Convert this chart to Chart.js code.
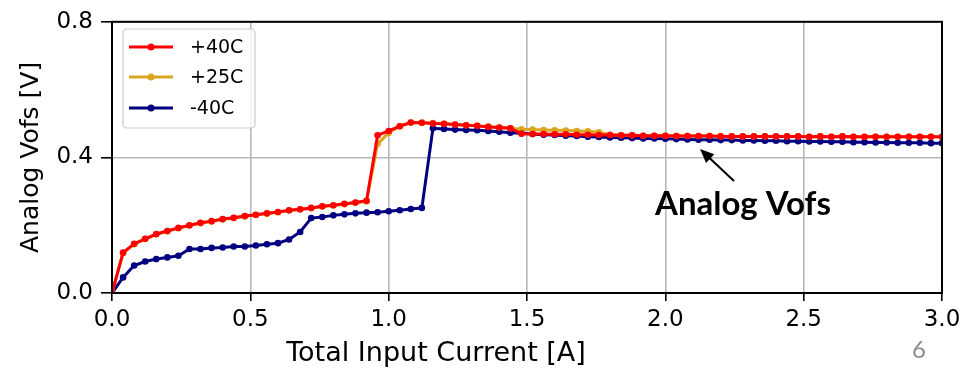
<!DOCTYPE html>
<html>
<head>
<meta charset="utf-8">
<script src="https://cdn.jsdelivr.net/npm/chart.js@4.4.1/dist/chart.umd.min.js"></script>
<style>
    html, body { margin: 0; padding: 0; background: #ffffff; }
    #wrap { width: 978px; height: 369px; }
</style>
</head>
<body>
<div id="wrap"><canvas id="vofsChart" width="978" height="369"></canvas></div>
<script>
// Total input current [A]
const currents = [
    0.00, 0.04, 0.08, 0.12, 0.16, 0.20, 0.24, 0.28, 0.32, 0.36,
    0.40, 0.44, 0.48, 0.52, 0.56, 0.60, 0.64, 0.68, 0.72, 0.76,
    0.80, 0.84, 0.88, 0.92, 0.96, 1.00, 1.04, 1.08, 1.12, 1.16,
    1.20, 1.24, 1.28, 1.32, 1.36, 1.40, 1.44, 1.48, 1.52, 1.56,
    1.60, 1.64, 1.68, 1.72, 1.76, 1.80, 1.84, 1.88, 1.92, 1.96,
    2.00, 2.04, 2.08, 2.12, 2.16, 2.20, 2.24, 2.28, 2.32, 2.36,
    2.40, 2.44, 2.48, 2.52, 2.56, 2.60, 2.64, 2.68, 2.72, 2.76,
    2.80, 2.84, 2.88, 2.92, 2.96, 3.00
];

// Analog Vofs [V] at +40C
const vofsPlus40 = [
    0.000, 0.119, 0.145, 0.160, 0.174, 0.183, 0.192, 0.200, 0.207, 0.212,
    0.218, 0.222, 0.227, 0.231, 0.235, 0.239, 0.244, 0.247, 0.251, 0.256,
    0.259, 0.263, 0.267, 0.272, 0.465, 0.478, 0.492, 0.503, 0.502, 0.500,
    0.499, 0.497, 0.495, 0.493, 0.490, 0.488, 0.486, 0.470, 0.469, 0.469,
    0.468, 0.468, 0.467, 0.467, 0.466, 0.466, 0.465, 0.465, 0.464, 0.464,
    0.464, 0.463, 0.463, 0.463, 0.463, 0.462, 0.462, 0.462, 0.462, 0.462,
    0.462, 0.462, 0.462, 0.461, 0.462, 0.461, 0.462, 0.461, 0.461, 0.461,
    0.461, 0.461, 0.461, 0.461, 0.461, 0.461
];

// Analog Vofs [V] at +25C
const vofsPlus25 = [
    0.000, 0.118, 0.144, 0.159, 0.173, 0.182, 0.191, 0.199, 0.206, 0.211,
    0.217, 0.221, 0.226, 0.230, 0.234, 0.238, 0.243, 0.246, 0.250, 0.255,
    0.258, 0.262, 0.266, 0.270, 0.440, 0.472, 0.492, 0.503, 0.503, 0.501,
    0.499, 0.497, 0.495, 0.493, 0.491, 0.488, 0.486, 0.483, 0.482, 0.481,
    0.480, 0.479, 0.478, 0.477, 0.474, 0.467, 0.465, 0.465, 0.464, 0.464,
    0.464, 0.463, 0.463, 0.463, 0.463, 0.462, 0.462, 0.462, 0.462, 0.462,
    0.462, 0.462, 0.462, 0.461, 0.462, 0.461, 0.462, 0.461, 0.461, 0.461,
    0.461, 0.461, 0.461, 0.461, 0.461, 0.461
];

// Analog Vofs [V] at -40C
const vofsMinus40 = [
    0.000, 0.046, 0.081, 0.093, 0.100, 0.105, 0.110, 0.130, 0.130, 0.133,
    0.134, 0.137, 0.137, 0.140, 0.144, 0.147, 0.158, 0.180, 0.221, 0.224,
    0.229, 0.232, 0.235, 0.237, 0.238, 0.241, 0.244, 0.248, 0.251, 0.486,
    0.484, 0.482, 0.481, 0.480, 0.478, 0.476, 0.473, 0.471, 0.469, 0.467,
    0.466, 0.464, 0.463, 0.461, 0.460, 0.459, 0.458, 0.457, 0.456, 0.456,
    0.455, 0.454, 0.453, 0.452, 0.452, 0.451, 0.451, 0.450, 0.450, 0.449,
    0.449, 0.448, 0.448, 0.447, 0.447, 0.446, 0.446, 0.445, 0.445, 0.444,
    0.444, 0.443, 0.443, 0.443, 0.442, 0.442
];

const seriesLabels = ["+40C", "+25C", "-40C"];
const seriesColors = ["#ff0000", "#daa520", "#000080"];
const xTicks = [0.0, 0.5, 1.0, 1.5, 2.0, 2.5, 3.0];
const yTicks = [0.0, 0.4, 0.8];

document.addEventListener("DOMContentLoaded", function () {

    /*** ===========================
     *  HELPERS
     *  =========================== ***/
    function toPoints(values) {
        return values.map((v, i) => ({ x: currents[i], y: v }));
    }

    function makeDataset(label, values, color) {
        return {
            label: label,
            data: toPoints(values),
            borderColor: color,
            backgroundColor: color,
            borderWidth: 3,
            pointRadius: 3.3,
            pointBorderWidth: 0,
            pointHoverRadius: 3.3,
            tension: 0
        };
    }

    /*** ===========================
     *  FRAME, LEGEND, ANNOTATION
     *  =========================== ***/
    const framePlugin = {
        id: "frame",
        afterDatasetsDraw(chart) {
            const { ctx, chartArea: a } = chart;
            ctx.save();
            ctx.strokeStyle = "#000000";
            ctx.lineWidth = 2;
            ctx.strokeRect(a.left, a.top, a.right - a.left, a.bottom - a.top);
            ctx.restore();
        }
    };

    const extrasPlugin = {
        id: "extras",
        afterDraw(chart) {
            const ctx = chart.ctx;
            ctx.save();

            // legend box
            const bx = 123, by = 29, bw = 132, bh = 99, r = 4;
            ctx.beginPath();
            ctx.roundRect(bx, by, bw, bh, r);
            ctx.fillStyle = "rgba(255,255,255,0.85)";
            ctx.fill();
            ctx.strokeStyle = "#cccccc";
            ctx.lineWidth = 1.2;
            ctx.stroke();

            const rows = [47, 77, 108];
            chart.data.datasets.forEach((ds, i) => {
                const y = rows[i];
                ctx.strokeStyle = ds.borderColor;
                ctx.lineWidth = 3;
                ctx.beginPath();
                ctx.moveTo(129, y);
                ctx.lineTo(173, y);
                ctx.stroke();
                ctx.fillStyle = ds.borderColor;
                ctx.beginPath();
                ctx.arc(151, y, 3.5, 0, Math.PI * 2);
                ctx.fill();
                ctx.fillStyle = "#000000";
                ctx.font = "19px 'DejaVu Sans'";
                ctx.textBaseline = "middle";
                ctx.textAlign = "left";
                ctx.fillText(ds.label, 190, y + 1);
            });

            // x axis title (sits left of the axis centre in the original)
            ctx.fillStyle = "#000000";
            ctx.font = "27px 'DejaVu Sans'";
            ctx.textAlign = "center";
            ctx.textBaseline = "middle";
            ctx.fillText("Total Input Current [A]", 436, 354);

            // arrow pointing at the curves
            const tx = 700, ty = 149, sx = 734, sy = 181;
            const ang = Math.atan2(ty - sy, tx - sx);
            const head = 14, half = 6;
            ctx.strokeStyle = "#000000";
            ctx.lineWidth = 2;
            ctx.beginPath();
            ctx.moveTo(sx, sy);
            ctx.lineTo(tx - Math.cos(ang) * head * 0.8, ty - Math.sin(ang) * head * 0.8);
            ctx.stroke();
            ctx.beginPath();
            ctx.moveTo(tx, ty);
            ctx.lineTo(tx - Math.cos(ang) * head - Math.sin(ang) * half,
                       ty - Math.sin(ang) * head + Math.cos(ang) * half);
            ctx.lineTo(tx - Math.cos(ang) * head + Math.sin(ang) * half,
                       ty - Math.sin(ang) * head - Math.cos(ang) * half);
            ctx.closePath();
            ctx.fill();

            // annotation text
            ctx.font = "bold 33px Lato";
            ctx.textAlign = "left";
            ctx.textBaseline = "alphabetic";
            ctx.fillText("Analog Vofs", 655, 215);

            // slide page number
            ctx.fillStyle = "#8c8c8c";
            ctx.font = "24px Lato";
            ctx.fillText("6", 912, 358);

            ctx.restore();
        }
    };

    /*** ===========================
     *  VOFS vs CURRENT LINE CHART
     *  =========================== ***/
    const ctxVofs = document.getElementById("vofsChart").getContext("2d");

    const tickFont = { family: "'DejaVu Sans'", size: 23 };

    new Chart(ctxVofs, {
        type: "line",
        data: {
            datasets: [
                makeDataset(seriesLabels[0], vofsPlus40, seriesColors[0]),
                makeDataset(seriesLabels[1], vofsPlus25, seriesColors[1]),
                makeDataset(seriesLabels[2], vofsMinus40, seriesColors[2])
            ]
        },
        options: {
            responsive: false,
            animation: false,
            layout: { padding: { left: 0, top: 18, right: 36, bottom: 0 } },
            plugins: {
                legend: { display: false },
                tooltip: { enabled: false }
            },
            scales: {
                x: {
                    type: "linear",
                    min: 0,
                    max: 3,
                    afterFit(scale) { scale.height = 76; },
                    afterBuildTicks(scale) { scale.ticks = xTicks.map(v => ({ value: v })); },
                    ticks: {
                        color: "#000000",
                        font: tickFont,
                        padding: 5,
                        maxRotation: 0,
                        callback: v => v.toFixed(1)
                    },
                    grid: { color: "#b8b8b8", lineWidth: 1.6, tickColor: "#000000", tickLength: 8 },
                    border: { display: false },
                    title: { display: false }
                },
                y: {
                    min: 0,
                    max: 0.8,
                    afterFit(scale) { scale.width = 112; },
                    afterBuildTicks(scale) { scale.ticks = yTicks.map(v => ({ value: v })); },
                    ticks: {
                        color: "#000000",
                        font: tickFont,
                        padding: 8,
                        callback: v => v.toFixed(1)
                    },
                    grid: { color: "#b8b8b8", lineWidth: 1.6, tickColor: "#000000", tickLength: 11 },
                    border: { display: false },
                    title: {
                        display: true,
                        text: "Analog Vofs [V]",
                        color: "#000000",
                        font: { family: "'DejaVu Sans'", size: 25 },
                        padding: { top: 16, bottom: 0 }
                    }
                }
            }
        },
        plugins: [framePlugin, extrasPlugin]
    });

});
</script>
</body>
</html>
